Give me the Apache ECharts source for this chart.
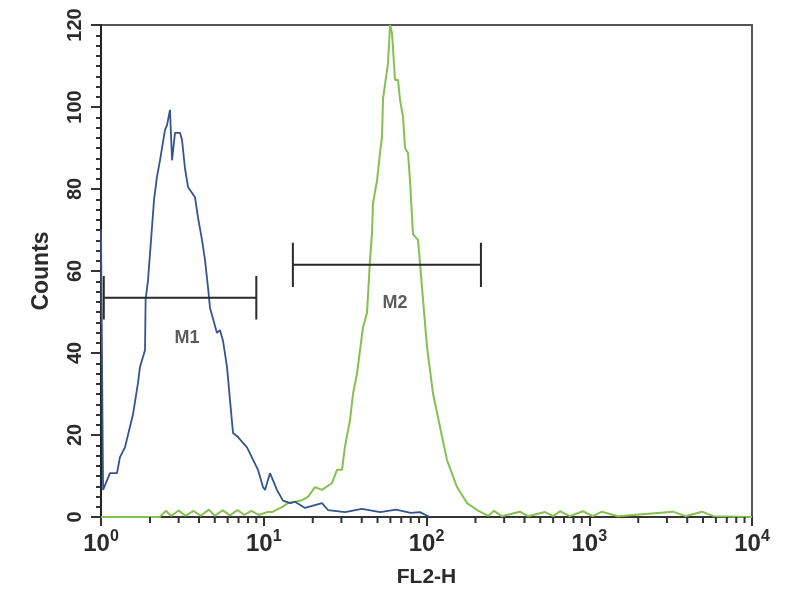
<!DOCTYPE html>
<html>
<head>
<meta charset="utf-8">
<title>FL2-H histogram</title>
<script src="https://cdn.jsdelivr.net/npm/echarts@6/dist/echarts.min.js"></script>
<style>
  html, body { margin: 0; padding: 0; background: #fff; }
  #chart { width: 800px; height: 600px; }
</style>
</head>
<body>
<div id="chart"></div>
<script>
// blue histogram (control)
const blueX = [1, 1.03, 1.09, 1.136, 1.254, 1.308, 1.404, 1.507, 1.572, 1.688, 1.736, 1.864, 1.88, 1.945,
  2.058, 2.117, 2.208, 2.304, 2.473, 2.545, 2.654, 2.732, 2.849, 3.058, 3.146, 3.282, 3.424, 3.781,
  3.945, 4.175, 4.355, 4.545, 4.675, 5.161, 5.38, 5.618, 5.945, 6.203, 6.474, 6.948, 7.889, 8.59,
  9.22, 9.89, 10.18, 10.92, 12.06, 13.13, 14.5, 15.56, 17.93, 22.8, 24.8, 31.6, 40, 52, 65, 80, 91, 105]
const blueY = [70, 6.6, 9, 10.7, 10.7, 14.6, 17, 22, 25, 32.7, 36.6, 40.7, 53, 57.8,
  70.7, 77.3, 83, 87, 94.4, 95.6, 99.3, 87, 93.7, 93.7, 92, 85, 80.5, 78,
  73, 67.6, 62.7, 56, 51, 44.9, 45.6, 43, 36.6, 28.5, 20.5, 19.5, 17, 14,
  11.5, 7.3, 6.6, 10.7, 6.6, 4, 3.4, 3.7, 2.2, 3.4, 1.7, 1.2, 2, 1.2, 1.8, 1, 1.2, 0]

// green histogram (antibody)
const greenX = [1, 2.3, 2.5, 2.7, 3.0, 3.3, 3.7, 4.1, 4.6, 5.0, 5.6, 6.2, 6.9, 7.6, 8.4, 9.3, 10.5,
  11.23, 12.95, 14.09, 15.56, 17.18, 18.7, 20.65, 22.8, 26.27, 28.18, 30.26, 31.5, 33.89, 35.35,
  37.41, 40.73, 43.1, 44.97, 46.26, 46.92, 49.65, 51.8, 53.3, 54.05, 58.0, 59.7, 61.4, 64.07,
  66.85, 68.76, 71.73, 73.8, 76.97, 79.18, 82.6, 88.7, 91.2, 95.2, 100.7, 109.6, 121, 133.6,
  154, 177.4, 204.4, 240, 260, 290, 375, 420, 535, 600, 661, 760, 915, 1050, 1197, 1500,
  3270, 3900, 4930, 5800, 10000]
const greenY = [0, 0, 1.5, 0.3, 1.6, 0.3, 1.5, 0.3, 1.8, 0.3, 1.6, 0.4, 1.7, 0.5, 1.5, 0.5, 1.2,
  1.2, 2.4, 3.4, 3.7, 4.1, 4.9, 7.3, 6.6, 8.3, 11.5, 11.5, 17, 23.7, 30,
  35, 46.3, 49.8, 62.7, 69.3, 76.6, 82, 88.8, 92.7, 102, 110.7, 120, 118, 106.6,
  106.6, 101.7, 97.6, 90, 88.8, 82, 69, 67.6, 62, 53, 41.5, 30.2, 22, 13.9,
  7.3, 3.4, 1.7, 0.3, 1.5, 0.2, 1.3, 0.2, 1.2, 0.2, 1.4, 0.2, 1.4, 0.2, 1.3, 0.2,
  1.3, 0.2, 1.3, 0.2, 0]

// gate markers
const markerNames = ['M1', 'M2']
const markerStart = [1.04, 15.1]
const markerEnd = [9, 216]
const markerLevel = [53.5, 61.5]
const markerHalf = [5.3, 5.4]
const markerLabelX = [3.38, 64]
const markerLabelY = [43.7, 52.2]

// log minor ticks: 2..9 in each decade
const decadeStarts = [1, 10, 100, 1000]
const minorTicks = []
decadeStarts.forEach(d => {
  for (let k = 2; k <= 9; k++) minorTicks.push(d * k)
})

const zip = (xs, ys) => xs.map((x, i) => [x, ys[i]])
const txt = '#2b2b2b'

const chart = echarts.init(document.getElementById('chart'))

const markerSeries = markerNames.map((name, i) => {
  const a = markerStart[i], b = markerEnd[i], lv = markerLevel[i], h = markerHalf[i]
  return {
    name: name,
    type: 'line',
    symbol: 'none',
    silent: true,
    z: 4,
    lineStyle: { color: '#2a2a2a', width: 2 },
    data: [[a, lv + h], [a, lv - h], [a, lv], [b, lv], [b, lv + h], [b, lv - h]]
  }
})

const option = {
  backgroundColor: '#fff',
  animation: false,
  grid: {
    left: 101, right: 48, top: 25, bottom: 83,
    show: true, borderColor: '#555', borderWidth: 2
  },
  xAxis: {
    type: 'log',
    logBase: 10,
    min: 1,
    max: 10000,
    name: 'FL2-H',
    nameLocation: 'middle',
    nameGap: 50,
    nameTextStyle: { fontFamily: 'Liberation Sans', fontWeight: 'bold', fontSize: 21, color: txt },
    axisLine: { lineStyle: { color: '#333', width: 2 } },
    axisTick: { inside: false, length: 9, lineStyle: { color: '#333', width: 2 } },
    splitLine: { show: false },
    axisLabel: {
      margin: 12,
      formatter: v => '{b|10}{s|' + Math.round(Math.log10(v)) + '}',
      rich: {
        b: { fontFamily: 'Liberation Sans', fontWeight: 'bold', fontSize: 24, color: txt },
        s: { fontFamily: 'Liberation Sans', fontWeight: 'bold', fontSize: 16, color: txt, padding: [0, 0, 14, 0] }
      }
    }
  },
  yAxis: {
    type: 'value',
    min: 0,
    max: 120,
    interval: 20,
    name: 'Counts',
    nameLocation: 'middle',
    nameGap: 48,
    nameTextStyle: { fontFamily: 'Liberation Sans', fontWeight: 'bold', fontSize: 23, color: txt },
    axisLine: { show: true, lineStyle: { color: '#222', width: 2 } },
    axisTick: { show: true, length: 10, lineStyle: { color: '#333', width: 2 } },
    minorTick: { show: true, splitNumber: 8, length: 5, lineStyle: { color: '#333', width: 2 } },
    splitLine: { show: false },
    axisLabel: {
      rotate: 90,
      margin: 16,
      fontFamily: 'Liberation Sans',
      fontWeight: 'bold',
      fontSize: 20,
      color: txt
    }
  },
  series: [{
    name: 'control',
    type: 'line',
    symbol: 'none',
    z: 3,
    lineStyle: { color: '#34558f', width: 1.8 },
    data: zip(blueX, blueY)
  }, {
    name: 'antibody',
    type: 'line',
    symbol: 'none',
    z: 2,
    lineStyle: { color: '#86bf52', width: 2 },
    data: zip(greenX, greenY)
  }].concat(markerSeries, [{
    name: 'gates',
    type: 'scatter',
    symbolSize: 0,
    silent: true,
    z: 5,
    label: {
      show: true,
      position: 'inside',
      formatter: p => markerNames[p.dataIndex],
      fontFamily: 'Liberation Sans',
      fontWeight: 'bold',
      fontSize: 18,
      color: '#333'
    },
    data: zip(markerLabelX, markerLabelY)
  }, {
    // minor log ticks under the x axis
    name: 'minorTicks',
    type: 'custom',
    clip: false,
    z: 6,
    data: minorTicks.map(v => [v, 0]),
    renderItem: (params, api) => {
      const p = api.coord([api.value(0), 0])
      return {
        type: 'line',
        shape: { x1: p[0], y1: p[1], x2: p[0], y2: p[1] + 6 },
        style: { stroke: '#333', lineWidth: 2 }
      }
    }
  }])
}

chart.setOption(option)
</script>
</body>
</html>
